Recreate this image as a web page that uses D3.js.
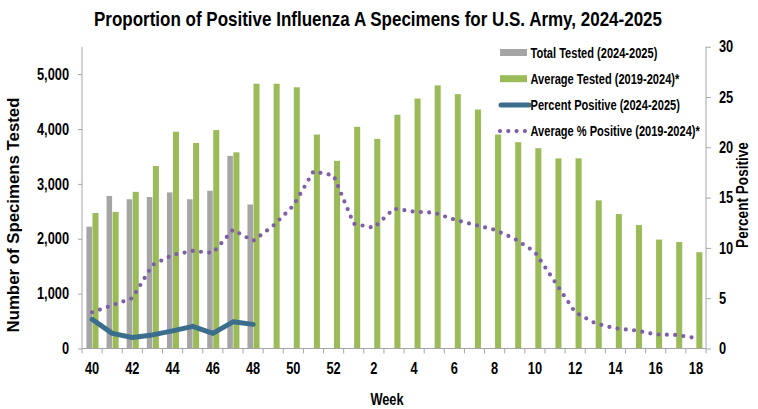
<!DOCTYPE html>
<html>
<head>
<meta charset="utf-8">
<script src="https://cdn.jsdelivr.net/npm/d3@7"></script>
<style>
  body { margin: 0; background: #fff; }
  svg text { font-family: "Liberation Sans Narrow", "Arial Narrow", "Liberation Sans", sans-serif; font-weight: bold; fill: #000; }
</style>
</head>
<body>
<div id="chart"></div>
<script>
// weeks of the flu season, 40 -> 52, then 1 -> 18
const weeks = [40, 41, 42, 43, 44, 45, 46, 47, 48, 49, 50, 51, 52,
  1, 2, 3, 4, 5, 6, 7, 8, 9, 10, 11, 12, 13, 14, 15, 16, 17, 18];
const weekLabels = [40, 42, 44, 46, 48, 50, 52, 2, 4, 6, 8, 10, 12, 14, 16, 18];
// gray bars, only reported so far through week 48
const totalTested = [2220, 2780, 2720, 2760, 2845, 2720, 2875, 3510, 2625];
// green bars
const avgTested = [2470, 2490, 2855, 3325, 3950, 3745, 3980, 3575, 4825, 4825, 4760, 3900, 3420,
  4040, 3820, 4260, 4555, 4795, 4635, 4355, 3900, 3760, 3650, 3465, 3465, 2700, 2450, 2250, 1985, 1940, 1755];
// blue line
const pctPositive = [2.9, 1.5, 1.1, 1.35, 1.75, 2.2, 1.5, 2.65, 2.4];
// purple dotted line
const avgPctPositive = [3.6, 4.3, 5.0, 8.3, 9.3, 9.7, 9.5, 11.8, 10.7, 12.2, 14.2, 17.6, 17.2,
  12.4, 12.0, 13.9, 13.6, 13.5, 12.8, 12.3, 11.8, 10.9, 9.6, 6.6, 3.6, 2.5, 2.0, 1.8, 1.4, 1.35, 1.05];
const countTicks = [0, 1000, 2000, 3000, 4000, 5000];
const pctTicks = [0, 5, 10, 15, 20, 25, 30];

const legendItems = [
  { label: "Total Tested (2024-2025)", type: "gray" },
  { label: "Average Tested (2019-2024)*", type: "green" },
  { label: "Percent Positive (2024-2025)", type: "blue" },
  { label: "Average % Positive (2019-2024)*", type: "dots" }
];

const colors = { gray: "#a5a5a5", green: "#9bbb59", blue: "#3b6e8c", dots: "#7f5ea8" };
const axisColor = "#a6a6a6";

// no narrow font installed, so squeeze the glyphs horizontally instead
function squeeze(sel, k) {
  sel.each(function () {
    const len = this.getComputedTextLength();
    d3.select(this).attr("textLength", len * k).attr("lengthAdjust", "spacingAndGlyphs");
  });
}

(function () {
  const W = 758, H = 409;
  const margin = { top: 46.7, right: 52, bottom: 60.5, left: 82 };
  const width = W - margin.left - margin.right;
  const height = H - margin.top - margin.bottom;

  const svg = d3.select("#chart").append("svg")
    .attr("width", W).attr("height", H);

  // title squeezed with a transform so its box stays honest
  svg.append("text")
    .attr("transform", "translate(378,26) scale(0.85,1)")
    .attr("text-anchor", "middle")
    .attr("font-size", "20px")
    .text("Proportion of Positive Influenza A Specimens for U.S. Army, 2024-2025");

  const g = svg.append("g")
    .attr("transform", "translate(" + margin.left + "," + margin.top + ")");

  const x = d3.scaleBand().domain(d3.range(weeks.length)).range([0, width]);
  const sub = d3.scaleBand().domain(["gray", "green"])
    .range([x.bandwidth() * 0.22, x.bandwidth() * 0.82]).paddingInner(0);
  const yCount = d3.scaleLinear().domain([0, 5500]).range([height, 0]);
  const yPct = d3.scaleLinear().domain([0, 30]).range([height, 0]);

  // bars
  g.selectAll(".gray").data(totalTested).enter().append("rect")
    .attr("class", "gray")
    .attr("x", (d, i) => x(i) + sub("gray"))
    .attr("width", sub.bandwidth() - 0.5)
    .attr("y", d => yCount(d))
    .attr("height", d => height - yCount(d))
    .attr("fill", colors.gray);

  g.selectAll(".green").data(avgTested).enter().append("rect")
    .attr("class", "green")
    .attr("x", (d, i) => x(i) + sub("green"))
    .attr("width", sub.bandwidth())
    .attr("y", d => yCount(d))
    .attr("height", d => height - yCount(d))
    .attr("fill", colors.green);

  const cx = i => x(i) + x.bandwidth() / 2;

  // dotted average line
  g.append("path")
    .datum(avgPctPositive)
    .attr("d", d3.line().x((d, i) => cx(i)).y(d => yPct(d)))
    .attr("fill", "none")
    .attr("stroke", colors.dots)
    .attr("stroke-width", 4.2)
    .attr("stroke-linecap", "round")
    .attr("stroke-dasharray", "0 8.3");

  // this season's percent positive
  g.append("path")
    .datum(pctPositive)
    .attr("d", d3.line().x((d, i) => cx(i)).y(d => yPct(d)))
    .attr("fill", "none")
    .attr("stroke", colors.blue)
    .attr("stroke-width", 5)
    .attr("stroke-linejoin", "round")
    .attr("stroke-linecap", "round");

  // left axis
  const leftAxis = g.append("g")
    .call(d3.axisLeft(yCount).tickValues(countTicks).tickFormat(d3.format(",")).tickSize(4).tickPadding(9));
  // right axis
  const rightAxis = g.append("g")
    .attr("transform", "translate(" + width + ",0)")
    .call(d3.axisRight(yPct).tickValues(pctTicks).tickSize(5).tickPadding(8));
  [leftAxis, rightAxis].forEach(a => {
    a.select(".domain").attr("stroke", axisColor).attr("d", "M0,0V" + height);
    a.selectAll(".tick line").attr("stroke", axisColor);
    a.selectAll("text").attr("font-size", "16px").attr("font-family", null);
    squeeze(a.selectAll("text"), 0.8);
  });

  // bottom axis: ticks at band edges, labels every other week
  const xAxis = g.append("g").attr("transform", "translate(0," + height + ")");
  xAxis.append("line")
    .attr("x1", 0).attr("x2", width)
    .attr("stroke", axisColor);
  xAxis.selectAll(".xt").data(d3.range(weeks.length + 1)).enter().append("line")
    .attr("x1", i => i < weeks.length ? x(i) : width)
    .attr("x2", i => i < weeks.length ? x(i) : width)
    .attr("y1", 0).attr("y2", 5)
    .attr("stroke", axisColor);
  const xLabels = xAxis.selectAll(".xl").data(weekLabels).enter().append("text")
    .attr("x", w => cx(weeks.indexOf(w)))
    .attr("y", 25)
    .attr("text-anchor", "middle")
    .attr("font-size", "16px")
    .text(w => w);
  squeeze(xLabels, 0.8);

  const weekTitle = svg.append("text")
    .attr("x", 387).attr("y", 405)
    .attr("text-anchor", "middle")
    .attr("font-size", "16px")
    .text("Week");
  squeeze(weekTitle, 0.8);

  const leftTitle = svg.append("text")
    .attr("transform", "translate(19,215) rotate(-90)")
    .attr("text-anchor", "middle")
    .attr("font-size", "16px")
    .text("Number of Specimens Tested");
  squeeze(leftTitle, 1.05);

  const rightTitle = svg.append("text")
    .attr("transform", "translate(748,195) rotate(-90)")
    .attr("text-anchor", "middle")
    .attr("font-size", "16px")
    .text("Percent Positive");
  squeeze(rightTitle, 0.85);

  // legend
  const legend = svg.append("g").attr("transform", "translate(500,52.5)");
  const row = legend.selectAll("g").data(legendItems).enter().append("g")
    .attr("transform", (d, i) => "translate(0," + (i * 26.2) + ")");
  row.filter(d => d.type === "gray" || d.type === "green").append("rect")
    .attr("x", 0).attr("y", -3.5).attr("width", 27).attr("height", 7)
    .attr("fill", d => colors[d.type]);
  row.filter(d => d.type === "blue").append("line")
    .attr("x1", 1).attr("x2", 29).attr("y1", 0).attr("y2", 0)
    .attr("stroke", colors.blue).attr("stroke-width", 5).attr("stroke-linecap", "round");
  row.filter(d => d.type === "dots").append("line")
    .attr("x1", 0).attr("x2", 26).attr("y1", 0).attr("y2", 0)
    .attr("stroke", colors.dots).attr("stroke-width", 4.2)
    .attr("stroke-linecap", "round").attr("stroke-dasharray", "0 8.3");
  const legendText = row.append("text")
    .attr("x", 30.5).attr("y", 5)
    .attr("font-size", "14px")
    .text(d => d.label);
  squeeze(legendText, 0.79);
})();
</script>
</body>
</html>
